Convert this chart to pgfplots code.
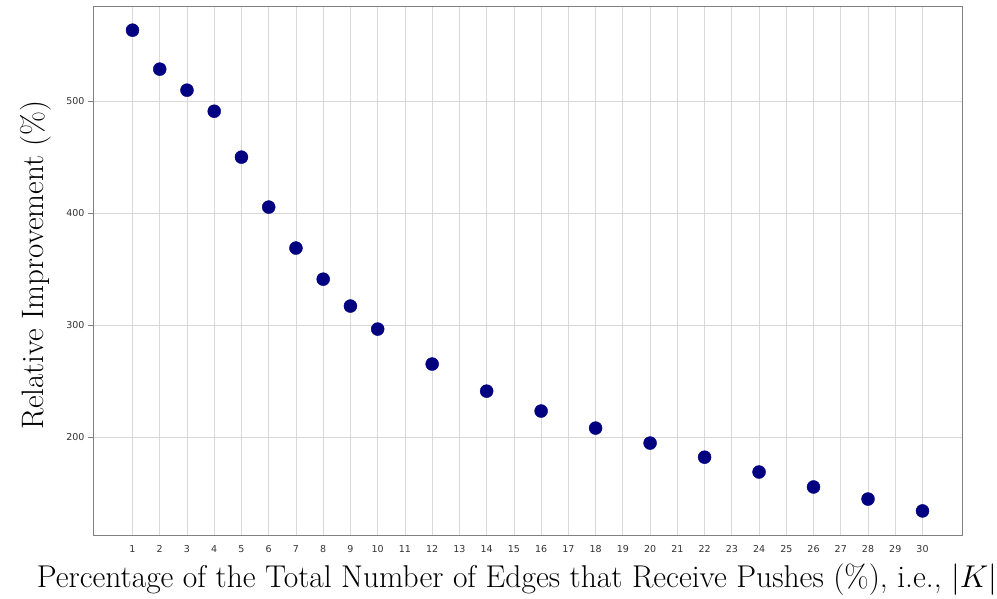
\RequirePackage{fix-cm}
\documentclass[border=0pt]{standalone}
\usepackage{pgfplots}
\pgfplotsset{compat=1.18}
\usepackage{fontspec}
\newfontfamily\dejavu{DejaVu Sans}
\definecolor{navyc}{RGB}{0,0,128}
\begin{document}
\begin{tikzpicture}[x=1pt,y=1pt]
\path[use as bounding box, fill=white] (0,0) rectangle (997,598);
\begin{axis}[
 at={(93pt,63pt)}, anchor=south west,
 scale only axis, width=869pt, height=529pt,
 xmin=-0.45, xmax=31.45, ymin=112.5, ymax=585,
 xtick={1,...,30}, ytick={200,300,400,500},
 grid=major, grid style={color=black!15, line width=0.7pt},
 axis line style={color=black!50, line width=0.9pt},
 tick style={color=black!50, line width=0.8pt},
 tick align=outside, tick pos=left,
 major tick length=5pt,
 xtick style={draw=none},
 xticklabel style={yshift=-2pt},
 ticklabel style={font=\dejavu\fontsize{9.5}{11}\selectfont, text=black!80},
 /pgf/number format/assume math mode=true,
]
\addplot[only marks, mark=*, mark size=6.5pt, color=navyc] coordinates {
(1,563.4) (2,528.6) (3,509.8) (4,491) (5,450) (6,405.4) (7,368.8) (8,341)
(9,317) (10,296.4) (12,265.2) (14,241) (16,223.2) (18,208) (20,194.6)
(22,182) (24,168.75) (26,155.4) (28,144.6) (30,134)
};
\end{axis}
\node[rotate=90] at (36,333) {\fontsize{31}{36}\selectfont Relative Improvement (\%)};
\node[anchor=base] at (517,11) {\fontsize{31.5}{36}\selectfont Percentage of the Total Number of Edges that Receive Pushes (\%), i.e., $|K|$};
\end{tikzpicture}
\end{document}
